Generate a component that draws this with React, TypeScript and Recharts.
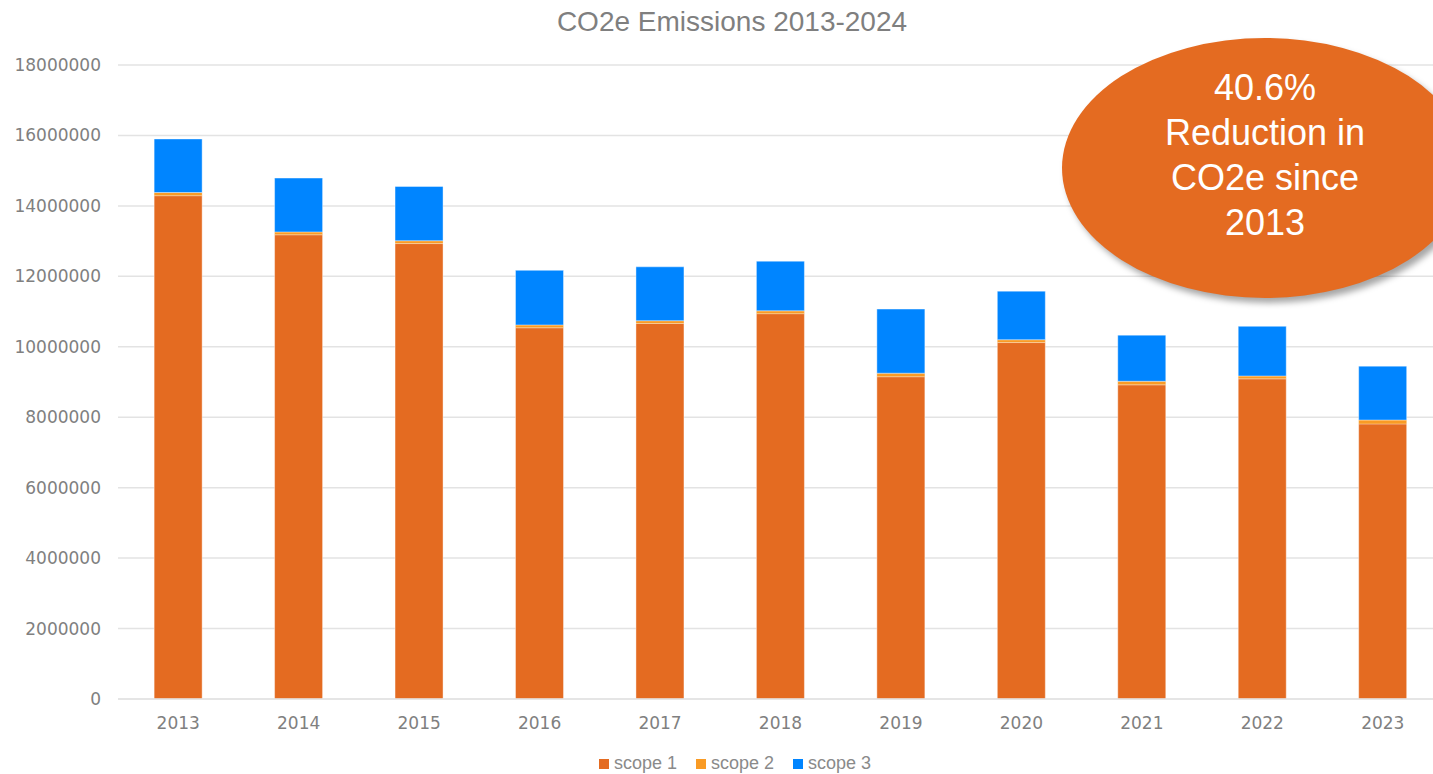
import { BarChart, Bar, XAxis, YAxis, CartesianGrid, Legend } from 'recharts'

const years = ['2013', '2014', '2015', '2016', '2017', '2018', '2019', '2020', '2021', '2022', '2023']
const scope1 = [14290000, 13180000, 12930000, 10540000, 10660000, 10940000, 9150000, 10120000, 8920000, 9090000, 7810000]
const scope2 = [90000, 80000, 80000, 80000, 80000, 80000, 100000, 80000, 100000, 80000, 110000]
const scope3 = [1520000, 1530000, 1540000, 1550000, 1530000, 1410000, 1820000, 1380000, 1310000, 1410000, 1530000]
const yTicks = [0, 2000000, 4000000, 6000000, 8000000, 10000000, 12000000, 14000000, 16000000, 18000000]
const calloutLines = ['40.6%', 'Reduction in', 'CO2e since', '2013']

const COLORS = { s1: '#E46B21', s2: '#F99B25', s3: '#0085FF' }
const FONT = '"Liberation Sans", Arial, sans-serif'
const TICK_FONT = '"DejaVu Sans", sans-serif'

const data = years.map((year, i) => ({
  year,
  'scope 1': scope1[i],
  'scope 2': scope2[i],
  'scope 3': scope3[i],
}))

const legendItems = [
  { name: 'scope 1', color: COLORS.s1 },
  { name: 'scope 2', color: COLORS.s2 },
  { name: 'scope 3', color: COLORS.s3 },
]

function LegendBox() {
  return (
    <div style={{ height: 45, display: 'flex', alignItems: 'flex-end', justifyContent: 'center', fontFamily: FONT, fontSize: 18, color: '#8a8a8a' }}>
      <div style={{ display: 'flex', gap: 19, marginBottom: 0, marginLeft: 27 }}>
        {legendItems.map((it) => (
          <div key={it.name} style={{ display: 'flex', alignItems: 'center' }}>
            <span style={{ width: 10, height: 10, background: it.color, marginRight: 5, display: 'inline-block' }} />
            {it.name}
          </div>
        ))}
      </div>
    </div>
  )
}

export default function App() {
  return (
    <div style={{ position: 'absolute', left: 0, top: 0, width: 1433, height: 774, overflow: 'hidden', background: '#fff' }}>
      <BarChart width={1450} height={774} data={data} margin={{ top: 65, right: 7, left: 0, bottom: 0 }} barCategoryGap="30%">
        <CartesianGrid vertical={false} stroke="#e3e3e3" strokeWidth={1.5} />
        <XAxis
          dataKey="year"
          height={30}
          tickLine={false}
          axisLine={{ stroke: '#e3e3e3', strokeWidth: 1.5 }}
          tickMargin={12}
          tick={{ fill: '#808080', fontSize: 17, fontFamily: TICK_FONT }}
        />
        <YAxis
          width={118}
          domain={[0, 18000000]}
          ticks={yTicks}
          axisLine={false}
          tickLine={false}
          tickMargin={11}
          tick={{ fill: '#808080', fontSize: 17, fontFamily: TICK_FONT }}
        />
        <Legend verticalAlign="bottom" content={() => <LegendBox />} />
        <Bar dataKey="scope 1" stackId="a" fill={COLORS.s1} stroke="rgba(255,255,255,0.4)" strokeWidth={1} isAnimationActive={false} />
        <Bar dataKey="scope 2" stackId="a" fill={COLORS.s2} stroke="rgba(255,255,255,0.25)" strokeWidth={1} isAnimationActive={false} />
        <Bar dataKey="scope 3" stackId="a" fill={COLORS.s3} stroke="rgba(255,255,255,0.4)" strokeWidth={1} isAnimationActive={false} />
      </BarChart>
      <div style={{ position: 'absolute', left: 0, top: 6, width: 1464, textAlign: 'center', fontFamily: FONT, fontSize: 28, color: '#7f7f7f' }}>
        CO2e Emissions 2013-2024
      </div>
      <div
        style={{
          position: 'absolute',
          left: 1062,
          top: 38,
          width: 406,
          height: 260,
          borderRadius: '50%',
          background: COLORS.s1,
          boxShadow: '4px 5px 6px rgba(0,0,0,0.35)',
          display: 'flex',
          flexDirection: 'column',
          alignItems: 'center',
          justifyContent: 'center',
          boxSizing: 'border-box',
          paddingBottom: 26,
          color: '#fff',
          fontFamily: FONT,
          fontSize: 36,
          lineHeight: '45px',
        }}
      >
        {calloutLines.map((l) => (
          <div key={l}>{l}</div>
        ))}
      </div>
    </div>
  )
}
